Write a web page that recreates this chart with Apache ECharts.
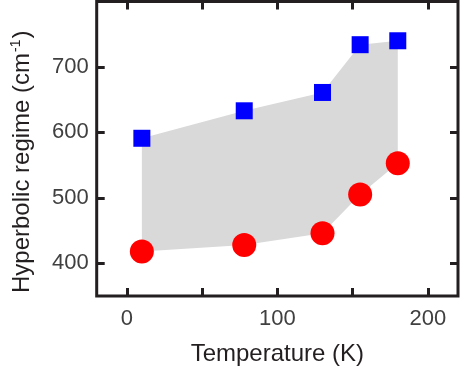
<!DOCTYPE html>
<html>
<head>
<meta charset="utf-8">
<script src="https://cdn.jsdelivr.net/npm/echarts@6/dist/echarts.min.js"></script>
<style>
html,body{margin:0;padding:0;background:#fff;}
#main{width:461px;height:371px;}
</style>
</head>
<body>
<div id="main"></div>
<script>
// Data
var temperatures = [10, 78, 130, 155, 180];
var upperEdge = [591, 633, 661, 734, 740];   // blue squares
var lowerEdge = [418, 428, 446, 505, 553];   // red circles
var xTickValues = [0, 50, 100, 150, 200];
var xLabelValues = [0, 100, 200];
var yTickValues = [400, 500, 600, 700];

var FONT = 'Liberation Sans, Arial, Helvetica, sans-serif';
var AXIS_COLOR = '#231f20';
var LABEL_COLOR = '#404040';

function pairs(xs, ys) {
  return xs.map(function (x, i) { return [x, ys[i]]; });
}

var chart = echarts.init(document.getElementById('main'), null, {renderer: 'canvas'});

function tickStyle(values) {
  return {show: true, inside: true, length: 8, customValues: values, lineStyle: {color: AXIS_COLOR, width: 3}};
}
var noLine = {show: false, onZero: false};

var option = {
  animation: false,
  backgroundColor: '#ffffff',
  grid: {
    left: 96.7, right: 3, top: 1.5, bottom: 73.7,
    show: true, borderColor: AXIS_COLOR, borderWidth: 3, backgroundColor: 'transparent'
  },
  xAxis: [{
    type: 'value', min: -20, max: 220, position: 'bottom',
    axisLine: noLine,
    splitLine: {show: false},
    axisTick: tickStyle(xTickValues),
    axisLabel: {customValues: xLabelValues, fontSize: 22, color: LABEL_COLOR, fontFamily: FONT, margin: 12},
    name: 'Temperature (K)', nameLocation: 'middle', nameGap: 46,
    nameTextStyle: {fontSize: 24, color: AXIS_COLOR, fontFamily: FONT}
  }, {
    type: 'value', min: -20, max: 220, position: 'top',
    axisLine: noLine,
    splitLine: {show: false},
    axisTick: tickStyle(xTickValues),
    axisLabel: {show: false}
  }],
  yAxis: [{
    type: 'value', min: 350, max: 800, position: 'left',
    axisLine: noLine,
    splitLine: {show: false},
    axisTick: tickStyle(yTickValues),
    axisLabel: {customValues: yTickValues, fontSize: 22, color: LABEL_COLOR, fontFamily: FONT, margin: 8},
    name: '{a|Hyperbolic regime (cm}{s|-1}{a|)}', nameLocation: 'middle', nameGap: 60,
    nameTextStyle: {
      fontFamily: FONT, color: AXIS_COLOR, padding: [0, 26, 0, 0],
      rich: {
        a: {fontSize: 24, color: AXIS_COLOR, fontFamily: FONT, lineHeight: 28},
        s: {fontSize: 14, color: AXIS_COLOR, fontFamily: FONT, lineHeight: 28, verticalAlign: 'top', padding: [0, 1, 0, 1]}
      }
    }
  }, {
    type: 'value', min: 350, max: 800, position: 'right',
    axisLine: noLine,
    splitLine: {show: false},
    axisTick: tickStyle(yTickValues),
    axisLabel: {show: false}
  }],
  series: [{
    type: 'custom',
    silent: true,
    z: 1,
    data: [[temperatures[0], upperEdge[0]]],
    renderItem: function (params, api) {
      if (params.dataIndex !== 0) return;
      var pts = [];
      for (var i = 0; i < temperatures.length; i++) {
        pts.push(api.coord([temperatures[i], upperEdge[i]]));
      }
      for (var j = temperatures.length - 1; j >= 0; j--) {
        pts.push(api.coord([temperatures[j], lowerEdge[j]]));
      }
      return {type: 'polygon', shape: {points: pts}, style: {fill: '#d9d9d9'}};
    }
  }, {
    type: 'scatter',
    z: 3,
    symbol: 'rect',
    symbolSize: 17,
    itemStyle: {color: '#0000ff', opacity: 1},
    data: pairs(temperatures, upperEdge)
  }, {
    type: 'scatter',
    z: 3,
    symbol: 'circle',
    symbolSize: 24,
    itemStyle: {color: '#ff0000', opacity: 1},
    data: pairs(temperatures, lowerEdge)
  }]
};
chart.setOption(option);
</script>
</body>
</html>
